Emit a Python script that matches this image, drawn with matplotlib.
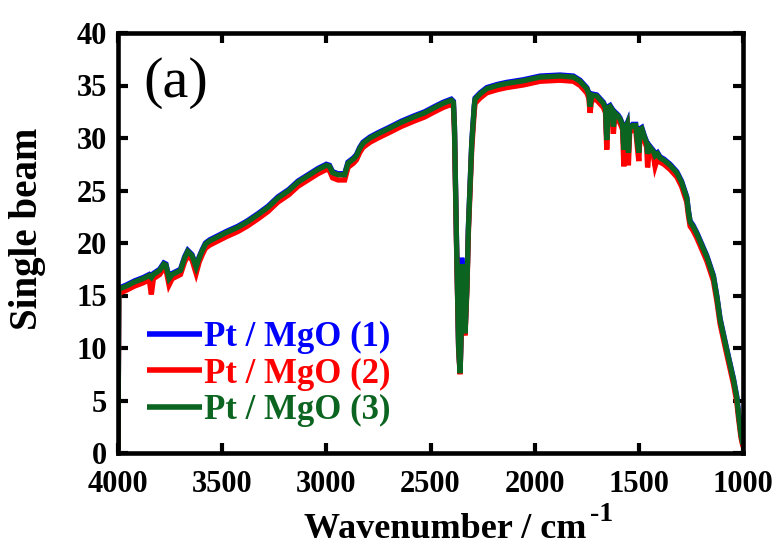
import matplotlib
matplotlib.use("Agg")
import matplotlib.pyplot as plt

plt.rcParams['font.family'] = ['Liberation Serif', 'DejaVu Serif']

wavenumber = [
    4000, 3996, 3960, 3920, 3880, 3850, 3840, 3830, 3800, 3780,
    3770, 3755, 3740, 3720, 3700, 3680, 3665, 3645, 3625, 3610,
    3595, 3580, 3560, 3520, 3480, 3424, 3380, 3328, 3280, 3232,
    3180, 3136, 3080, 3040, 3000, 2985, 2970, 2944, 2912, 2896,
    2870, 2856, 2840, 2824, 2790, 2752, 2700, 2640, 2580, 2528,
    2480, 2440, 2400, 2390, 2385, 2375, 2365, 2358, 2352, 2350,
    2345, 2334, 2325, 2318, 2302, 2290, 2286, 2262, 2230, 2180,
    2134, 2054, 1974, 1878, 1814, 1782, 1750, 1740, 1734, 1726,
    1702, 1670, 1660, 1654, 1646, 1638, 1626, 1622, 1616, 1600,
    1590, 1578, 1572, 1566, 1556, 1550, 1544, 1530, 1515, 1506,
    1500, 1494, 1486, 1475, 1462, 1458, 1450, 1430, 1422, 1410,
    1398, 1380, 1350, 1318, 1295, 1270, 1262, 1254, 1240, 1222,
    1200, 1174, 1142, 1125, 1110, 1078, 1046, 1030, 1022, 1010,
    1000,
]

pt_mgo_1 = [
    0.3, 15.7, 16.0, 16.4, 16.7, 17.0, 16.8, 17.1, 17.5, 18.1,
    18.0, 16.7, 17.1, 17.3, 17.5, 18.7, 19.3, 18.9, 17.8, 18.7,
    19.4, 20.0, 20.3, 20.7, 21.1, 21.6, 22.1, 22.8, 23.5, 24.4,
    25.1, 25.9, 26.6, 27.1, 27.5, 27.4, 26.8, 26.6, 26.6, 27.7,
    28.1, 28.4, 29.1, 29.6, 30.1, 30.5, 31.0, 31.6, 32.1, 32.5,
    33.0, 33.4, 33.7, 33.5, 31.1, 20.1, 10.1, 7.7, 12.1, 18.6,
    14.1, 11.5, 16.1, 21.6, 29.6, 33.1, 33.8, 34.3, 34.8, 35.1,
    35.3, 35.55, 35.9, 36.0, 35.9, 35.5, 34.8, 34.3, 33.1, 34.2,
    34.1, 33.4, 32.9, 29.9, 33.0, 33.1, 32.7, 31.2, 32.5, 32.2,
    31.9, 31.3, 29.0, 30.9, 31.4, 28.7, 31.0, 31.3, 31.3, 29.6,
    28.7, 30.9, 31.0, 30.3, 29.6, 28.6, 29.3, 28.8, 28.4, 28.6,
    28.2, 28.0, 27.5, 26.8, 25.9, 24.4, 23.1, 22.1, 21.7, 21.0,
    20.0, 18.8, 16.9, 14.9, 12.8, 9.9, 7.1, 5.4, 3.9, 1.9,
    0.9,
]

pt_mgo_2 = [
    0.3, 15.2, 15.5, 15.9, 16.2, 16.5, 15.1, 16.6, 17.0, 17.6,
    17.5, 16.0, 16.6, 16.8, 17.0, 18.2, 18.8, 18.4, 17.1, 18.2,
    18.9, 19.5, 19.8, 20.2, 20.6, 21.1, 21.6, 22.3, 23.0, 23.9,
    24.6, 25.4, 26.1, 26.6, 27.0, 26.9, 26.2, 26.0, 26.0, 27.2,
    27.6, 27.9, 28.6, 29.1, 29.6, 30.0, 30.5, 31.1, 31.6, 32.0,
    32.5, 32.9, 33.2, 33.0, 30.6, 19.6, 9.8, 7.5, 11.8, 17.8,
    13.8, 11.2, 15.6, 21.0, 29.0, 32.5, 33.3, 33.8, 34.3, 34.6,
    34.8, 35.05, 35.4, 35.5, 35.4, 35.0, 34.3, 33.8, 32.4, 33.7,
    33.6, 32.9, 32.4, 28.9, 32.5, 32.6, 32.2, 30.4, 32.0, 31.7,
    31.4, 30.8, 27.3, 30.4, 30.9, 27.4, 30.5, 30.8, 30.8, 28.9,
    27.8, 30.4, 30.5, 29.8, 29.1, 27.2, 28.8, 28.3, 27.3, 28.1,
    27.7, 27.5, 27.0, 26.3, 25.4, 23.9, 22.6, 21.6, 21.2, 20.5,
    19.5, 18.3, 16.4, 14.4, 12.3, 9.4, 6.6, 4.9, 3.4, 1.5,
    0.6,
]

pt_mgo_3 = [
    0.3, 15.6, 15.9, 16.3, 16.6, 16.9, 16.7, 17.0, 17.4, 18.0,
    17.9, 16.6, 17.0, 17.2, 17.4, 18.6, 19.2, 18.8, 17.7, 18.6,
    19.3, 19.9, 20.2, 20.6, 21.0, 21.5, 22.0, 22.7, 23.4, 24.3,
    25.0, 25.8, 26.5, 27.0, 27.4, 27.3, 26.7, 26.5, 26.5, 27.6,
    28.0, 28.3, 29.0, 29.5, 30.0, 30.4, 30.9, 31.5, 32.0, 32.4,
    32.9, 33.3, 33.6, 33.4, 31.0, 20.0, 10.0, 7.6, 12.0, 18.0,
    14.0, 11.4, 16.0, 21.5, 29.5, 33.0, 33.7, 34.2, 34.7, 35.0,
    35.2, 35.45, 35.8, 35.9, 35.8, 35.4, 34.7, 34.2, 33.0, 34.1,
    34.0, 33.3, 32.8, 29.8, 32.9, 33.0, 32.6, 31.1, 32.4, 32.1,
    31.8, 31.2, 28.9, 30.8, 31.3, 28.6, 30.9, 31.2, 31.2, 29.5,
    28.6, 30.8, 30.9, 30.2, 29.5, 28.5, 29.2, 28.7, 28.3, 28.5,
    28.1, 27.9, 27.4, 26.7, 25.8, 24.3, 23.0, 22.0, 21.6, 20.9,
    19.9, 18.7, 16.8, 14.8, 12.7, 9.8, 7.0, 5.3, 3.8, 1.8,
    0.8,
]

series_labels = ["Pt / MgO (1)", "Pt / MgO (2)", "Pt / MgO (3)"]
series_colors = ["#0000ff", "#ff0000", "#0b6420"]
x_ticks = [4000, 3500, 3000, 2500, 2000, 1500, 1000]
y_ticks = [0, 5, 10, 15, 20, 25, 30, 35, 40]

fig = plt.figure(figsize=(7.82, 5.45), dpi=100)
ax = fig.add_axes([118 / 782, 1 - 453 / 545, 625 / 782, 420 / 545])

for ys, lab, col in zip([pt_mgo_1, pt_mgo_2, pt_mgo_3], series_labels, series_colors):
    ax.plot(wavenumber, ys, color=col, lw=3.8, label=lab,
            solid_joinstyle='miter', solid_capstyle='butt')

ax.set_xlim(4000, 1000)
ax.set_ylim(0, 40)
ax.set_xticks(x_ticks)
ax.set_yticks(y_ticks)
ax.set_xticklabels([str(v) for v in x_ticks])
ax.set_yticklabels([str(v) for v in y_ticks])
ax.tick_params(direction='in', length=7, width=3, top=True, right=True,
               labelsize=22)
ax.tick_params(axis='x', pad=12)
ax.tick_params(axis='y', pad=8)
for lbl in ax.get_xticklabels() + ax.get_yticklabels():
    lbl.set_fontweight('bold')
for sp in ax.spines.values():
    sp.set_linewidth(3.3)

fig.text(304 / 782, 1 - 538 / 545, 'Wavenumber / cm', ha='left',
         va='baseline', fontsize=26, fontweight='bold')
fig.text(590 / 782, 1 - 521 / 545, '-1', ha='left',
         va='baseline', fontsize=20, fontweight='bold')
fig.text(28 / 782, 1 - 229 / 545, 'Single beam', rotation=90, ha='center',
         va='center', fontsize=28, fontweight='bold')

ax.text(0.04, 0.88, '(a)', transform=ax.transAxes, ha='left', va='center',
        fontsize=42)

leg = ax.legend(loc='center left', bbox_to_anchor=(0.046, 0.188), frameon=False,
                prop={'weight': 'bold', 'size': 25}, handlelength=1.6,
                handletextpad=0.06, labelspacing=0.1, borderpad=0,
                borderaxespad=0)
for txt, col in zip(leg.get_texts(), series_colors):
    txt.set_color(col)
for h in leg.legend_handles:
    h.set_linewidth(4)

fig.savefig('out.png', dpi=100)
